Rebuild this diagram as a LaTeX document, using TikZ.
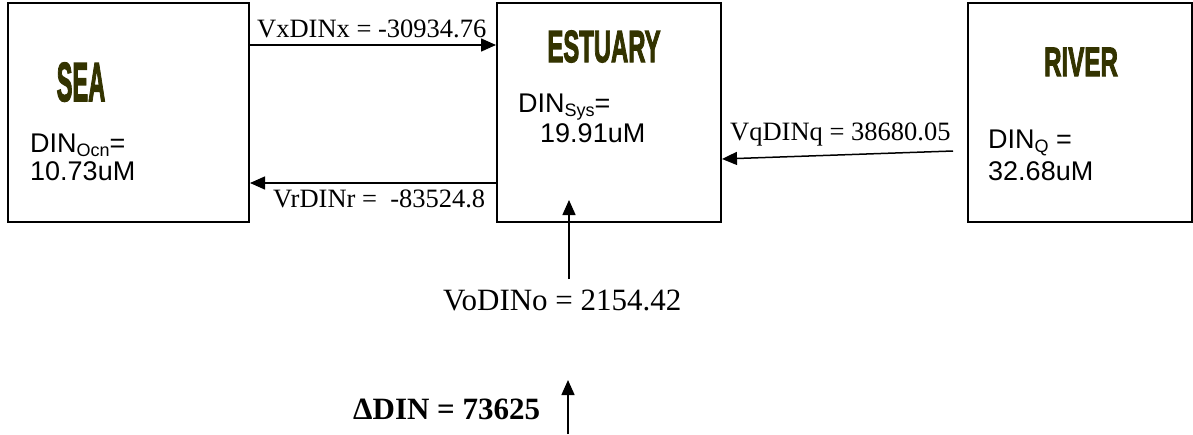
\documentclass[tikz,border=0pt]{standalone}
\usepackage{fontspec}
\setmainfont{Liberation Serif}
\newfontfamily\arialf{Liberation Sans}
\newfontfamily\heavyf[FakeBold=3]{Liberation Sans Bold}
\usepackage{tikz}
\usepackage{xcolor}
\usetikzlibrary{arrows.meta}

\definecolor{titleolive}{RGB}{51,51,0}
\newcommand{\boxtitle}[3]{\scalebox{#1}[1]{\fontsize{#2}{#2}\selectfont\heavyf #3}}
\newcommand{\dinsub}[1]{\raisebox{-0.35ex}{\fontsize{18}{18}\selectfont #1}}

\begin{document}
\begin{tikzpicture}[x=1pt, y=-1pt]
  % Style definitions
  \tikzstyle{box} = [rectangle, draw=black, line width=2pt, minimum height=219pt, inner sep=0pt]
  \tikzstyle{ttl} = [anchor=base, inner sep=0pt, text=titleolive]
  \tikzstyle{conc} = [anchor=base west, inner sep=0pt, font=\arialf\fontsize{27}{30}\selectfont]
  \tikzstyle{flux} = [anchor=base west, inner sep=0pt, font=\fontsize{26.5}{30}\selectfont]
  \tikzstyle{flow} = [line width=1.5pt, -{Triangle[length=15pt,width=13pt]}]

  \useasboundingbox (0,0) rectangle (1193,434);

  % Boxes
  \node (sea) [box, minimum width=241pt] at (128.5,112.5) {};
  \node (est) [box, minimum width=224pt] at (609,112.5) {};
  \node (riv) [box, minimum width=224pt] at (1080,112.5) {};

  % Titles and concentrations
  \node (seattl) [ttl] at (81,101) {\boxtitle{0.43}{55}{SEA}};
  \node (estttl) [ttl] at (604,62) {\boxtitle{0.53}{45}{ESTUARY}};
  \node (rivttl) [ttl] at (1081,76) {\boxtitle{0.59}{41}{RIVER}};

  \node (seadin) [conc] at (30,152) {DIN\dinsub{Ocn}=};
  \node (seaval) [conc] at (30,180) {10.73uM};
  \node (estdin) [conc] at (518,112) {DIN\dinsub{Sys}=};
  \node (estval) [conc] at (540,142) {19.91uM};
  \node (rivdin) [conc] at (988,148) {DIN\dinsub{Q} =};
  \node (rivval) [conc] at (988,180) {32.68uM};

  % Flux labels
  \node (vx) [flux] at (257,37) {VxDINx = -30934.76};
  \node (vr) [flux] at (273,207) {VrDINr =\ \ -83524.8};
  \node (vq) [flux] at (730,140) {VqDINq = 38680.05};
  \node (vo) [flux, font=\fontsize{31}{34}\selectfont] at (443,310) {VoDINo = 2154.42};
  \node (ddin) [flux, font=\fontsize{31}{34}\selectfont\bfseries] at (353,419) {ΔDIN = 73625};

  \coordinate (vobase) at (569,279);
  \coordinate (votip) at (569,200);
  \coordinate (dbase) at (568,434);
  \coordinate (dtip) at (568,380);

  % Arrows
  \draw[flow] ([yshift=67.5pt]sea.east) -- ([yshift=67.5pt]est.west);
  \draw[flow] ([yshift=-70.5pt]est.west) -- ([yshift=-70.5pt]sea.east);
  \draw[flow] ([xshift=-14pt,yshift=-38.5pt]riv.west) -- ([yshift=-46.5pt]est.east);
  \draw[flow] (vobase) -- (votip);
  \draw[flow] (dbase) -- (dtip);
\end{tikzpicture}
\end{document}
